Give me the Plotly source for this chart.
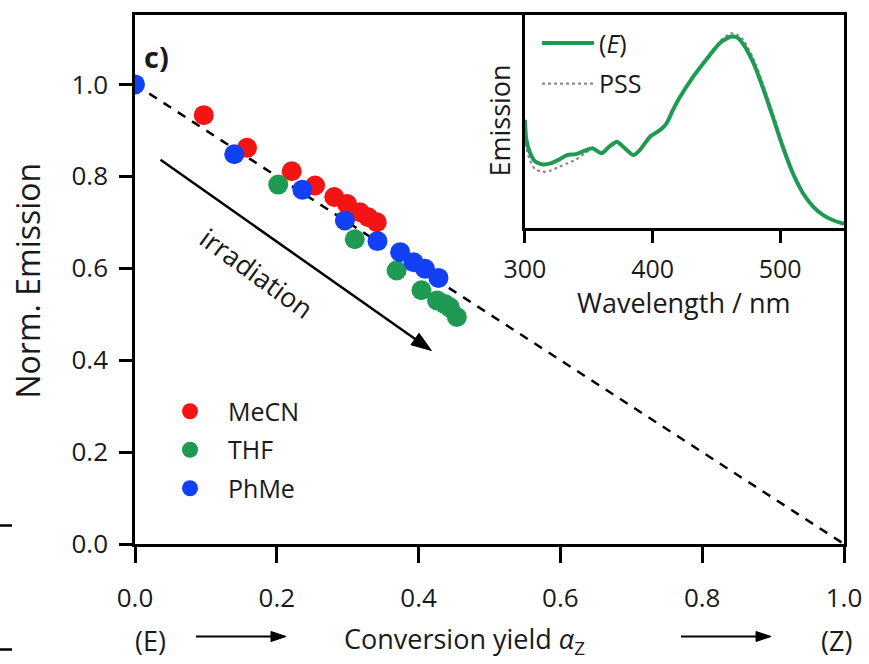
import math
import plotly.graph_objects as go

# ---------------- data ----------------
mecn_x = [0.097, 0.158, 0.221, 0.254, 0.281, 0.299, 0.317, 0.329, 0.341]
mecn_y = [0.933, 0.862, 0.811, 0.780, 0.755, 0.740, 0.722, 0.711, 0.700]

thf_x = [0.202, 0.310, 0.369, 0.404, 0.426, 0.437, 0.444, 0.454]
thf_y = [0.782, 0.663, 0.595, 0.552, 0.530, 0.522, 0.515, 0.494]

phme_x = [0.0, 0.140, 0.236, 0.296, 0.342, 0.374, 0.393, 0.409, 0.428]
phme_y = [1.0, 0.848, 0.771, 0.704, 0.659, 0.635, 0.613, 0.599, 0.579]

ref_x = [0.0, 1.0]
ref_y = [1.0, 0.0]

wl = [300, 301, 304, 308, 314, 320, 327, 333, 340, 348, 353, 360, 366, 372, 377,
      385, 390, 398, 406, 411, 416, 421, 432, 442, 453, 461, 466, 471, 479, 487,
      495, 502, 510, 518, 526, 534, 542, 550]
em_E = [0.56, 0.46, 0.39, 0.345, 0.330, 0.335, 0.356, 0.378, 0.383, 0.404, 0.413,
        0.387, 0.421, 0.447, 0.421, 0.378, 0.404, 0.473, 0.508, 0.542, 0.611, 0.672,
        0.784, 0.870, 0.957, 0.988, 0.985, 0.950, 0.853, 0.715, 0.560, 0.421, 0.283,
        0.180, 0.111, 0.067, 0.041, 0.024]
em_PSS = [0.50, 0.42, 0.35, 0.305, 0.292, 0.298, 0.318, 0.335, 0.355, 0.392, 0.410,
          0.387, 0.421, 0.447, 0.421, 0.378, 0.404, 0.473, 0.508, 0.542, 0.611, 0.672,
          0.786, 0.875, 0.965, 1.005, 1.000, 0.972, 0.875, 0.735, 0.578, 0.435, 0.292,
          0.186, 0.113, 0.068, 0.041, 0.024]

x_ticks = [0.0, 0.2, 0.4, 0.6, 0.8, 1.0]
y_ticks = [0.0, 0.2, 0.4, 0.6, 0.8, 1.0]
wl_ticks = [300, 400, 500]

RED = "#f51414"
GREEN = "#1e9a52"
BLUE = "#1240f5"
FONT = "Open Sans"
TXT = "#1a1a1a"
F_TICK = 26
F_LAB = 27
F_LEG = 25

# plot-area geometry (pixels)
PW, PH = 709, 529
Y_MAX = 1.151


def fnt(s):
    return dict(family=FONT, size=s, color=TXT)


def add_arrow(fig, x0, y0, x1, y1, sx, sy, xref, yref, L, W, lw):
    """Arrow from (x0,y0) to (x1,y1); sx, sy = pixels per unit."""
    ux, uy = (x1 - x0) * sx, (y1 - y0) * sy
    n = math.hypot(ux, uy)
    ux, uy = ux / n, uy / n
    bx, by = x1 - L * ux / sx, y1 - L * uy / sy
    px, py = -uy, ux
    p1 = (bx + W * px / sx, by + W * py / sy)
    p2 = (bx - W * px / sx, by - W * py / sy)
    fig.add_shape(type="line", xref=xref, yref=yref, x0=x0, y0=y0,
                  x1=x1 - (L * 0.6) * ux / sx, y1=y1 - (L * 0.6) * uy / sy,
                  line=dict(color="black", width=lw))
    fig.add_shape(type="path", xref=xref, yref=yref,
                  path=f"M {x1},{y1} L {p1[0]},{p1[1]} L {p2[0]},{p2[1]} Z",
                  fillcolor="black", line=dict(color="black", width=1))


fig = go.Figure()

fig.add_trace(go.Scatter(x=ref_x, y=ref_y, mode="lines",
                         line=dict(color="black", width=2.5, dash="9px,8px"),
                         showlegend=False, hoverinfo="skip"))

for name, xs, ys, col in [("MeCN", mecn_x, mecn_y, RED),
                          ("THF", thf_x, thf_y, GREEN),
                          ("PhMe", phme_x, phme_y, BLUE)]:
    fig.add_trace(go.Scatter(x=xs, y=ys, mode="markers", name=name,
                             legendgroup=name,
                             marker=dict(color=col, size=20, line=dict(width=0)),
                             legend="legend"))

fig.add_trace(go.Scatter(x=wl, y=em_PSS, mode="lines", name="PSS",
                         legendgroup="pss",
                         line=dict(color="#8a8a8a", width=2.2, dash="dot",
                                   shape="spline", smoothing=0.6),
                         xaxis="x2", yaxis="y2", legend="legend2", legendrank=2))
fig.add_trace(go.Scatter(x=wl, y=em_E, mode="lines", name="(<i>E</i>)",
                         legendgroup="e",
                         line=dict(color=GREEN, width=4, shape="spline", smoothing=0.6),
                         xaxis="x2", yaxis="y2", legend="legend2", legendrank=1))

axis_common = dict(showline=True, linewidth=2.5, linecolor="black", mirror=True,
                   ticks="outside", tickcolor="black", tickwidth=2.5,
                   showgrid=False, zeroline=False, automargin=False)

fig.update_layout(
    width=869, height=664,
    margin=dict(l=135, r=25, t=15, b=120),
    paper_bgcolor="white", plot_bgcolor="white",
    font=fnt(F_TICK),
    xaxis=dict(domain=[0, 1], range=[0, 1.0], tickvals=x_ticks,
               ticktext=[f"{v:.1f}" for v in x_ticks], ticklen=16,
               ticklabelstandoff=13, tickfont=fnt(F_TICK), **axis_common),
    yaxis=dict(domain=[0, 1], range=[0, Y_MAX], tickvals=y_ticks,
               ticktext=[f"{v:.1f}" for v in y_ticks], ticklen=13,
               ticklabelstandoff=6, tickfont=fnt(F_TICK), **axis_common),
    xaxis2=dict(domain=[0.55, 1.0], anchor="y2", range=[300, 550],
                tickvals=wl_ticks, ticklen=12, ticklabelstandoff=5,
                tickfont=fnt(25), **axis_common),
    yaxis2=dict(domain=[0.5965, 1.0], anchor="x2", range=[0, 1.1],
                showline=True, linewidth=2.5, linecolor="black", mirror=True,
                ticks="", showticklabels=False, showgrid=False, zeroline=False,
                automargin=False),
    legend=dict(x=0.024, y=0.294, xanchor="left", yanchor="top",
                bgcolor="rgba(0,0,0,0)", tracegroupgap=3, itemwidth=66,
                font=fnt(F_LEG), itemsizing="trace"),
    legend2=dict(x=0.567, y=0.99, xanchor="left", yanchor="top",
                 bgcolor="rgba(0,0,0,0)", itemwidth=52, tracegroupgap=5,
                 font=fnt(F_LEG)),
)

# axis titles (placed as annotations for exact positions)
fig.add_annotation(x=-0.151, y=0.498, xref="paper", yref="paper",
                   xanchor="center", yanchor="middle",
                   text="Norm. Emission", textangle=-90, showarrow=False, font=fnt(32))
fig.add_annotation(x=0.773, y=(543.5 - 302) / 529, xref="paper", yref="paper",
                   xanchor="center", yanchor="middle",
                   text="Wavelength / nm", showarrow=False, font=fnt(F_LAB))
fig.add_annotation(x=(499 - 135) / 709, y=(543.5 - 120) / 529, xref="paper", yref="paper",
                   xanchor="center", yanchor="middle",
                   text="Emission", textangle=-90, showarrow=False, font=fnt(27))

# panel label
fig.add_annotation(x=0.031, y=1.061, xref="x", yref="y", text="<b>c)</b>",
                   xanchor="center", yanchor="middle",
                   showarrow=False, font=fnt(29))

# irradiation arrow
add_arrow(fig, 0.036, 0.836, 0.418, 0.421, PW, PH / Y_MAX, "x", "y", 20, 7, 2.5)
fig.add_annotation(x=0.171, y=0.590, xref="x", yref="y", text="irradiation",
                   xanchor="center", yanchor="middle",
                   textangle=36, showarrow=False, font=fnt(F_LAB))

# bottom axis label row
fig.add_annotation(x=(150 - 135) / 709, y=-0.182, xref="paper", yref="paper", text="(E)",
                   xanchor="center", yanchor="middle",
                   showarrow=False, font=fnt(F_LAB))
fig.add_annotation(x=(836 - 135) / 709, y=-0.182, xref="paper", yref="paper", text="(Z)",
                   xanchor="center", yanchor="middle",
                   showarrow=False, font=fnt(F_LAB))
fig.add_annotation(x=0.465, y=-0.182, xref="paper", yref="paper",
                   xanchor="center", yanchor="middle",
                   text="Conversion yield <i>α</i><sub>Z</sub>",
                   showarrow=False, font=fnt(F_LAB))
ya = (543.5 - 636) / 529
for x_tail, x_head in [(196, 286), (681, 771)]:
    add_arrow(fig, (x_tail - 135) / 709, ya, (x_head - 135) / 709, ya,
              PW, PH, "paper", "paper", 15, 5, 2.2)

# small marks at the left edge
for py in [(543.5 - 525) / 529, (543.5 - 649) / 529]:
    fig.add_shape(type="line", xref="paper", yref="paper",
                  x0=-135 / 709, x1=-123 / 709,
                  y0=py, y1=py, line=dict(color="black", width=2.5))

fig.write_html("out.html",
               config={"displayModeBar": False},
               post_script="document.body.style.margin='0px';"
                           "document.body.style.overflow='hidden';")
